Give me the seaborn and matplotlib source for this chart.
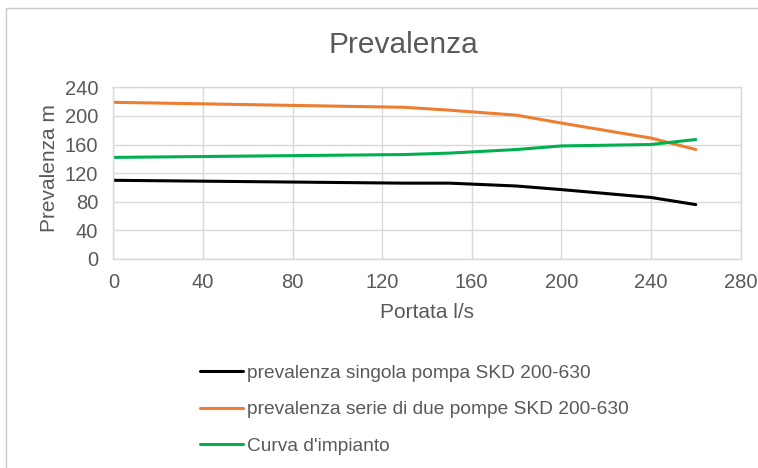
import matplotlib
matplotlib.use("Agg")
import matplotlib.pyplot as plt
import seaborn as sns
import pandas as pd
from matplotlib.patches import Rectangle

# Flow rate (l/s) and head (m) values for each curve
portata = [0, 130, 150, 180, 200, 240, 260]
singola = [110, 106, 106, 102, 97, 86, 76]
serie = [219, 212, 208, 201, 190, 169, 153]
impianto = [142, 146, 148, 153, 158, 160, 167]

labels = [
    "prevalenza singola pompa SKD 200-630",
    "prevalenza serie di due pompe SKD 200-630",
    "Curva d'impianto",
]
colors = ["#000000", "#ED7D31", "#00B050"]
x_ticks = [0, 40, 80, 120, 160, 200, 240, 280]
y_ticks = [0, 40, 80, 120, 160, 200, 240]

df = pd.concat([
    pd.DataFrame({"Portata": portata, "Prevalenza": vals, "Serie": lab})
    for vals, lab in zip([singola, serie, impianto], labels)
])

sns.set_theme(style="whitegrid")
plt.rcParams["font.family"] = ["Liberation Sans", "DejaVu Sans"]
txt = "#595959"

fig = plt.figure(figsize=(7.58, 4.68), dpi=100)
ax = fig.add_axes([0.1495, 0.4466, 0.8275, 0.3669])

sns.lineplot(data=df, x="Portata", y="Prevalenza", hue="Serie",
             palette=colors, linewidth=2.2, ax=ax, sort=True)

ax.set_xlim(0, 280)
ax.set_ylim(0, 240)
ax.set_xticks(x_ticks)
ax.set_yticks(y_ticks)
ax.tick_params(axis="both", labelsize=14.5, colors=txt, length=0)
ax.tick_params(axis="x", pad=10)
ax.tick_params(axis="y", pad=11)
ax.grid(True, color="#d9d9d9", linewidth=1)
for s in ax.spines.values():
    s.set_color("#d9d9d9")
    s.set_linewidth(1)
ax.set_xlabel("Portata l/s", fontsize=15, color=txt)
ax.xaxis.set_label_coords(0.5, -0.256)
ax.set_ylabel("Prevalenza m", fontsize=15, color=txt)
ax.yaxis.set_label_coords(-0.0873, 0.527)

fig.text(403 / 758, 1 - 53 / 468, "Prevalenza", ha="center", va="baseline",
         fontsize=21.5, color=txt)

handles, labs = ax.get_legend_handles_labels()
ax.get_legend().remove()
fig.legend(handles, labs, loc="upper left", bbox_to_anchor=(0.254, 0.238),
           frameon=False, fontsize=13.8, labelcolor=txt, handlelength=2.25,
           handletextpad=0.2, labelspacing=1.0, borderaxespad=0)

# outer chart frame
fig.add_artist(Rectangle((6 / 758, -0.1), 1.2, 1.1 - 8 / 468,
                         transform=fig.transFigure, fill=False,
                         edgecolor="#c8c8c8", linewidth=1))

fig.savefig("out.png", dpi=100, facecolor="white")
